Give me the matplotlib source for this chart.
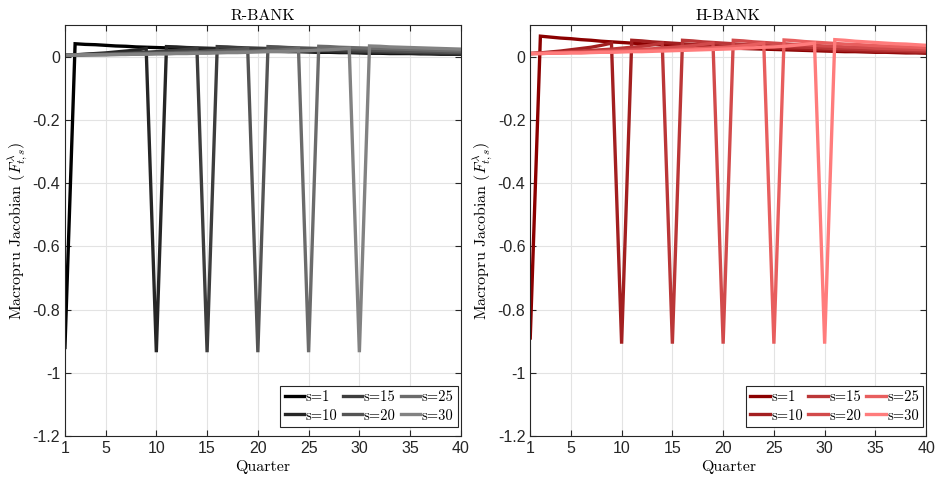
import matplotlib
matplotlib.use("Agg")
import matplotlib.pyplot as plt

plt.rcParams['mathtext.fontset'] = 'cm'
plt.rcParams['axes.unicode_minus'] = False

# quarters on the x axis
quarters = list(range(1, 41))
shock_dates = [1, 10, 15, 20, 25, 30]
legend_labels = ['s=1', 's=10', 's=15', 's=20', 's=25', 's=30']
xtick_vals = [1, 5, 10, 15, 20, 25, 30, 35, 40]
ytick_vals = [0, -0.2, -0.4, -0.6, -0.8, -1, -1.2]
ytick_labels = ['0', '-0.2', '-0.4', '-0.6', '-0.8', '-1', '-1.2']

# R-BANK columns of the Jacobian
r_s1 = [-0.92, 0.041, 0.039, 0.038, 0.036, 0.034, 0.033, 0.031, 0.030, 0.029, 0.028,
        0.026, 0.025, 0.024, 0.023, 0.022, 0.021, 0.020, 0.019, 0.019, 0.018,
        0.017, 0.016, 0.016, 0.015, 0.014, 0.014, 0.013, 0.013, 0.012, 0.011,
        0.011, 0.010, 0.010, 0.010, 0.009, 0.009, 0.008, 0.008, 0.008]
r_s10 = [0.005, 0.006, 0.008, 0.010, 0.012, 0.015, 0.018, 0.021, 0.026, -0.935,
         0.032, 0.031, 0.029, 0.028, 0.027, 0.026, 0.025, 0.024, 0.023, 0.022,
         0.021, 0.020, 0.019, 0.018, 0.017, 0.017, 0.016, 0.015, 0.014, 0.014,
         0.013, 0.013, 0.012, 0.012, 0.011, 0.011, 0.010, 0.010, 0.009, 0.009]
r_s15 = [0.005, 0.006, 0.007, 0.008, 0.009, 0.010, 0.011, 0.013, 0.014, 0.016,
         0.018, 0.020, 0.023, 0.026, -0.935,
         0.032, 0.031, 0.029, 0.028, 0.027, 0.026, 0.025, 0.024, 0.023, 0.022,
         0.021, 0.020, 0.019, 0.018, 0.017, 0.017, 0.016, 0.015, 0.014, 0.014,
         0.013, 0.013, 0.012, 0.012, 0.011]
r_s20 = [0.005, 0.005, 0.006, 0.007, 0.007, 0.008, 0.009, 0.010, 0.011, 0.012,
         0.013, 0.014, 0.015, 0.016, 0.018, 0.019, 0.021, 0.023, 0.026, -0.935,
         0.032, 0.031, 0.029, 0.028, 0.027, 0.026, 0.025, 0.024, 0.023, 0.022,
         0.021, 0.020, 0.019, 0.018, 0.017, 0.017, 0.016, 0.015, 0.014, 0.014]
r_s25 = [0.005, 0.005, 0.006, 0.006, 0.007, 0.007, 0.008, 0.008, 0.009, 0.010,
         0.010, 0.011, 0.012, 0.013, 0.013, 0.014, 0.015, 0.016, 0.017, 0.018,
         0.020, 0.021, 0.023, 0.026, -0.935,
         0.033, 0.032, 0.030, 0.029, 0.028, 0.027, 0.026, 0.025, 0.024, 0.023,
         0.022, 0.021, 0.020, 0.019, 0.018]
r_s30 = [0.005, 0.005, 0.006, 0.006, 0.006, 0.007, 0.007, 0.008, 0.008, 0.009,
         0.009, 0.010, 0.010, 0.011, 0.011, 0.012, 0.013, 0.013, 0.014, 0.015,
         0.016, 0.016, 0.017, 0.018, 0.019, 0.021, 0.022, 0.024, 0.027, -0.935,
         0.034, 0.033, 0.031, 0.030, 0.029, 0.028, 0.027, 0.026, 0.025, 0.024]

# H-BANK columns of the Jacobian
h_s1 = [-0.89, 0.065, 0.062, 0.059, 0.057, 0.054, 0.052, 0.049, 0.047, 0.045, 0.043,
        0.041, 0.039, 0.037, 0.036, 0.034, 0.033, 0.031, 0.030, 0.028, 0.027,
        0.026, 0.025, 0.024, 0.023, 0.022, 0.021, 0.020, 0.019, 0.018, 0.017,
        0.016, 0.016, 0.015, 0.014, 0.014, 0.013, 0.012, 0.012, 0.011]
h_s10 = [0.010, 0.012, 0.015, 0.018, 0.022, 0.026, 0.030, 0.036, 0.043, -0.908,
         0.052, 0.050, 0.047, 0.045, 0.043, 0.041, 0.039, 0.038, 0.036, 0.034,
         0.033, 0.031, 0.030, 0.029, 0.027, 0.026, 0.025, 0.024, 0.023, 0.022,
         0.021, 0.020, 0.019, 0.018, 0.017, 0.016, 0.016, 0.015, 0.014, 0.014]
h_s15 = [0.010, 0.011, 0.013, 0.014, 0.016, 0.018, 0.020, 0.022, 0.024, 0.027,
         0.030, 0.033, 0.037, 0.043, -0.908,
         0.052, 0.050, 0.047, 0.045, 0.043, 0.041, 0.039, 0.038, 0.036, 0.034,
         0.033, 0.031, 0.030, 0.029, 0.027, 0.026, 0.025, 0.024, 0.023, 0.022,
         0.021, 0.020, 0.019, 0.018, 0.017]
h_s20 = [0.010, 0.011, 0.012, 0.013, 0.014, 0.015, 0.016, 0.017, 0.019, 0.020,
         0.022, 0.024, 0.025, 0.027, 0.030, 0.032, 0.035, 0.039, 0.043, -0.908,
         0.052, 0.050, 0.047, 0.045, 0.043, 0.041, 0.039, 0.038, 0.036, 0.034,
         0.033, 0.031, 0.030, 0.029, 0.027, 0.026, 0.025, 0.024, 0.023, 0.022]
h_s25 = [0.010, 0.010, 0.011, 0.012, 0.013, 0.013, 0.014, 0.015, 0.016, 0.017,
         0.018, 0.019, 0.020, 0.021, 0.022, 0.024, 0.025, 0.027, 0.028, 0.030,
         0.032, 0.035, 0.038, 0.043, -0.908,
         0.053, 0.051, 0.048, 0.046, 0.044, 0.042, 0.040, 0.039, 0.037, 0.035,
         0.034, 0.032, 0.031, 0.030, 0.028]
h_s30 = [0.010, 0.010, 0.011, 0.011, 0.012, 0.012, 0.013, 0.014, 0.014, 0.015,
         0.016, 0.016, 0.017, 0.018, 0.019, 0.020, 0.021, 0.022, 0.023, 0.024,
         0.025, 0.027, 0.028, 0.030, 0.031, 0.033, 0.036, 0.039, 0.043, -0.908,
         0.054, 0.052, 0.049, 0.047, 0.045, 0.043, 0.041, 0.040, 0.038, 0.036]

r_series = [r_s1, r_s10, r_s15, r_s20, r_s25, r_s30]
h_series = [h_s1, h_s10, h_s15, h_s20, h_s25, h_s30]

grey_colors = ['#000000', '#262626', '#3d3d3d', '#545454', '#6b6b6b', '#828282']
red_colors = ['#8b0000', '#a31f20', '#bb3637', '#d24a4b', '#e85e5e', '#ff7c7c']

serif = 'cmr10'

fig = plt.figure(figsize=(9.36, 4.8), dpi=100)
ax_r = fig.add_axes([0.0694, 0.0917, 0.423, 0.856])
ax_h = fig.add_axes([0.5665, 0.0917, 0.423, 0.856])

for ax, series, colors, title in [(ax_r, r_series, grey_colors, 'R-BANK'),
                                  (ax_h, h_series, red_colors, 'H-BANK')]:
    for vals, col, lab in zip(series, colors, legend_labels):
        ax.plot(quarters, vals, color=col, lw=2.4, label=lab,
                solid_joinstyle='miter')
    ax.set_xlim(1, 40)
    ax.set_ylim(-1.2, 0.1)
    ax.set_xticks(xtick_vals)
    ax.set_xticklabels([str(v) for v in xtick_vals], fontsize=11.5,
                       family='Liberation Sans')
    ax.set_yticks(ytick_vals)
    ax.set_yticklabels(ytick_labels, fontsize=11.5, family='Liberation Sans')
    ax.grid(True, color='#e3e3e3', lw=0.8)
    ax.set_axisbelow(True)
    ax.tick_params(direction='in', top=True, right=True, length=4,
                   width=0.8, color='#262626', labelcolor='#262626')
    for sp in ax.spines.values():
        sp.set_color('#262626')
        sp.set_linewidth(0.8)
    ax.set_title(title, family=serif, fontsize=11.5, pad=4)
    ax.set_xlabel('Quarter', family=serif, fontsize=11.5, labelpad=3)
    ax.set_ylabel(r'Macropru Jacobian $(F^{\lambda}_{t,s})$', family=serif,
                  fontsize=11.5, labelpad=2)
    leg = ax.legend(loc='lower right', bbox_to_anchor=(0.993, 0.022), ncol=3,
                    prop={'family': serif, 'size': 10.5},
                    handlelength=1.35, handletextpad=0.1, columnspacing=0.35,
                    labelspacing=0.35, borderpad=0.3, borderaxespad=0,
                    fancybox=False, framealpha=1, edgecolor='#262626')
    leg.get_frame().set_linewidth(0.8)

fig.savefig('out.png', dpi=100)
